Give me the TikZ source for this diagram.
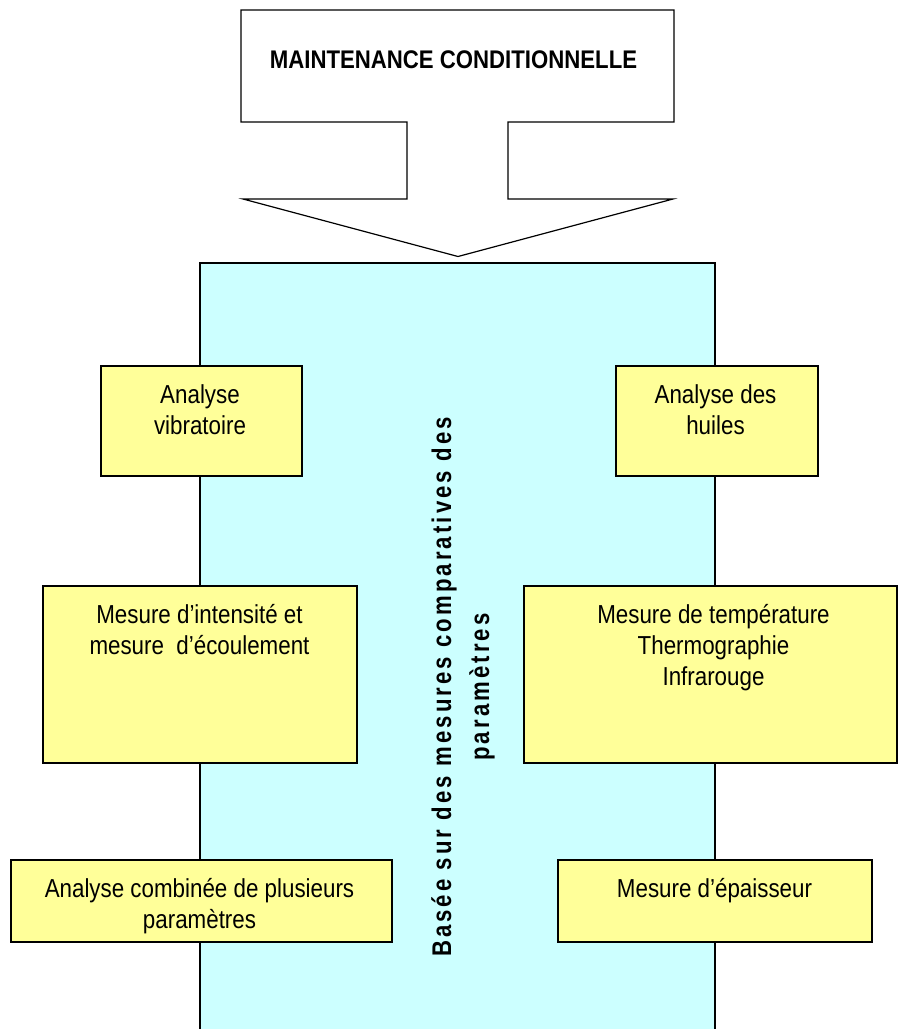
\documentclass[tikz,border=0pt]{standalone}
\usepackage{fontspec}
\setmainfont{Liberation Sans}
\newfontfamily\boxfont[FakeStretch=0.86]{Liberation Sans}
\newfontfamily\titlefont[FakeStretch=0.87]{Liberation Sans}
\newfontfamily\vertfont[FakeStretch=0.82,LetterSpace=11.5]{Liberation Sans}
\definecolor{cyanfill}{HTML}{CCFFFF}
\definecolor{yelfill}{HTML}{FFFF99}
\begin{document}
\begin{tikzpicture}[x=1pt,y=-1pt,
  ybox/.style={draw=black, line width=1.4pt, fill=yelfill, inner sep=0pt, outer sep=0pt, anchor=north west},
  btext/.style={anchor=north, inner sep=0pt, align=center, font=\boxfont\fontsize{26}{31}\selectfont},
  band/.style={draw=black, line width=1.2pt, fill=cyanfill, inner sep=0pt, outer sep=0pt, anchor=north west},
  arrowshape/.style={draw=black, fill=white, line width=1.2pt, line join=miter}
]
\useasboundingbox (0,0) rectangle (898,1029);
\clip (0,0) rectangle (898,1029);
\fill[white] (0,0) rectangle (898,1029);
% central band
\node[band, minimum width=515pt, minimum height=790pt] (band) at (200,263) {};
% block arrow
\draw[arrowshape] (241,10) -- (674,10) -- (674,122) -- (508,122) -- (508,199)
  -- (673,199) -- (458,256.5) -- (243,199) -- (407,199) -- (407,122)
  -- (241,122) -- cycle;
\node[anchor=base, inner sep=0pt, font=\titlefont\bfseries\fontsize{25.5}{30}\selectfont] (title) at (453.5,68) {MAINTENANCE CONDITIONNELLE};
% boxes
\node[ybox, minimum width=201pt, minimum height=110pt] (vib) at (101,366) {};
\node[ybox, minimum width=202pt, minimum height=110pt] (huil) at (616,366) {};
\node[ybox, minimum width=314pt, minimum height=177pt] (inte) at (43,586) {};
\node[ybox, minimum width=373pt, minimum height=177pt] (temp) at (524,586) {};
\node[ybox, minimum width=381pt, minimum height=82pt] (comb) at (11,860) {};
\node[ybox, minimum width=314pt, minimum height=82pt] (epai) at (558,860) {};
% box texts
\node[btext] (vibt) at (200,384) {Analyse\\vibratoire};
\node[btext] (huilt) at (715.5,384) {Analyse des\\huiles};
\node[btext] (intet) at (199.5,604) {Mesure d’intensité et\\mesure\ \ d’écoulement};
\node[btext] (tempt) at (713.5,604) {Mesure de température\\Thermographie\\Infrarouge};
\node[btext] (combt) at (199.5,878) {Analyse combinée de plusieurs\\paramètres};
\node[btext] (epait) at (714.5,878) {Mesure d’épaisseur};
% vertical text
\node[rotate=90, align=center, inner sep=0pt, font=\vertfont\bfseries\fontsize{27}{38}\selectfont] (vert) at (463,687) {Basée sur des mesures comparatives des\\paramètres};
\end{tikzpicture}
\end{document}
